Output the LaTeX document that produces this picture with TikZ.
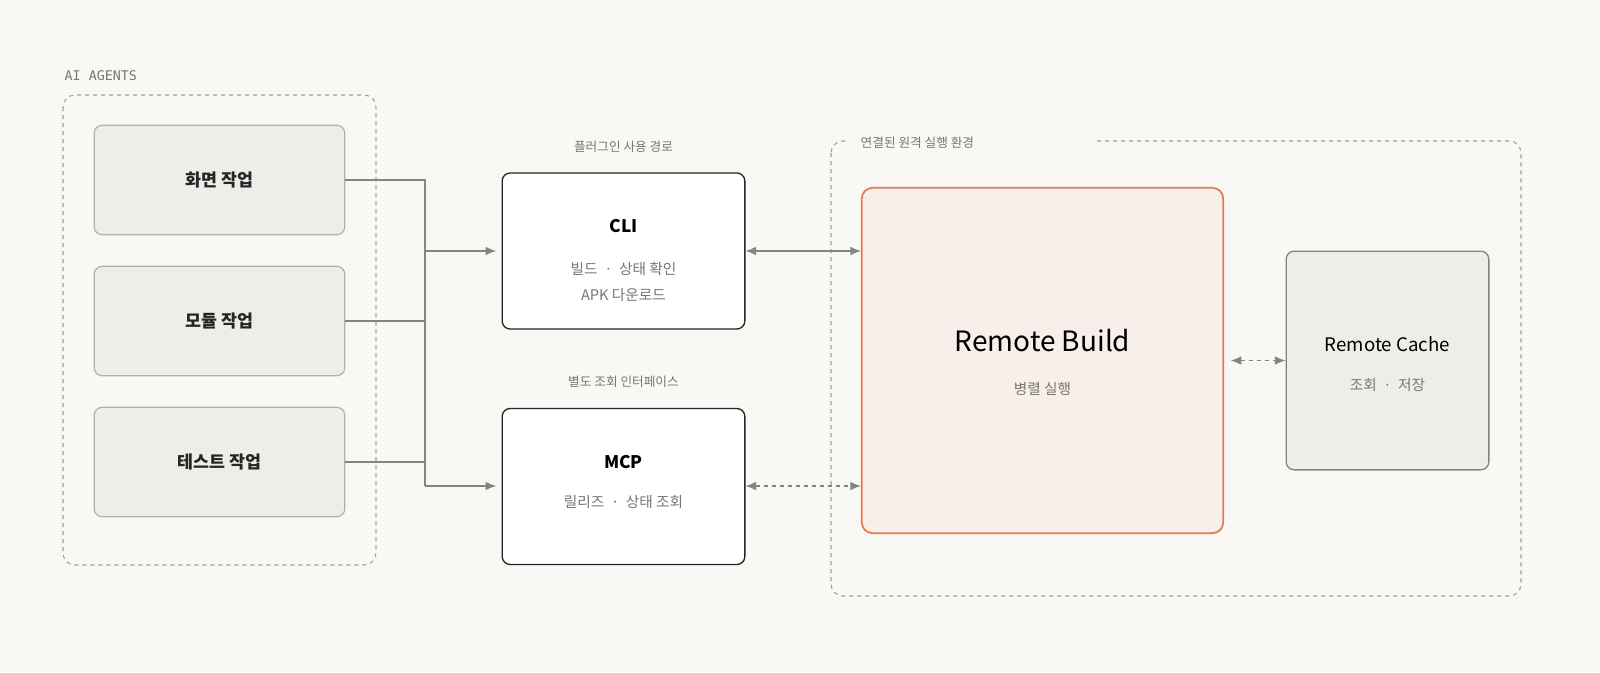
\documentclass[tikz,border=0pt]{standalone}
\usepackage{fontspec}
\setmainfont{Noto Sans CJK KR}
\newfontfamily\monofont{DejaVu Sans Mono}
\usetikzlibrary{arrows.meta}
\definecolor{bgcol}{HTML}{FAF8F4}
\definecolor{agentfill}{HTML}{EEEDE9}
\definecolor{agentline}{HTML}{B3B1AB}
\definecolor{buildfill}{HTML}{F8EFEA}
\definecolor{buildline}{HTML}{E07B54}
\definecolor{linecol}{HTML}{858580}
\definecolor{textgray}{HTML}{77766F}
\begin{document}
\begin{tikzpicture}[x=0.75pt,y=-0.75pt]
        \tikzset{agent/.style = {draw=agentline,fill=agentfill,rounded corners=6pt,line width=0.9pt,minimum width=188pt,minimum height=82pt,font=\fontsize{13}{15}\selectfont\bfseries,text=black!85}}
        \tikzset{tool/.style = {draw=black!85,fill=white,rounded corners=6pt,line width=1pt,minimum width=182pt,minimum height=117pt}}
        \tikzset{group/.style = {draw=linecol!80,dashed,rounded corners=9pt,line width=0.8pt}}
        \tikzset{caption/.style = {font=\fontsize{9.5}{11}\selectfont,text=textgray}}
        \tikzset{edge/.style = {draw=linecol,line width=0.9pt,-{Latex[length=8pt,width=6.5pt]}}}
        \tikzset{twoway/.style = {edge,{Latex[length=8pt,width=6.5pt]}-{Latex[length=8pt,width=6.5pt]}}}
        \fill[bgcol] (0,0) rectangle (1600,672);

        % agents
        \draw[group] (63,95) rectangle (376,565);
        \node[anchor=west,font=\monofont\fontsize{10}{12}\selectfont,text=textgray] (agentslabel) at (60,76) {AI AGENTS};
        \node[agent] (screen) at (219.5,180) {화면 작업};
        \node[agent] (module) at (219.5,321) {모듈 작업};
        \node[agent] (test) at (219.5,462) {테스트 작업};

        % plugin tools
        \node[tool] (cli) at (623.5,251) {};
        \node[font=\fontsize{13}{15}\selectfont\bfseries] (clititle) at (623.5,226) {CLI};
        \node[caption,align=center,font=\fontsize{11}{20}\selectfont] (clisub) at (623.5,282) {빌드 \ · \ 상태 확인\\APK 다운로드};
        \node[caption] (clilabel) at (623.5,147) {플러그인 사용 경로};
        \node[tool] (mcp) at (623.5,486.5) {};
        \node[font=\fontsize{13}{15}\selectfont\bfseries] (mcptitle) at (623.5,462) {MCP};
        \node[caption,font=\fontsize{11}{13}\selectfont] (mcpsub) at (623.5,502) {릴리즈 \ · \ 상태 조회};
        \node[caption] (mcplabel) at (623.5,382) {별도 조회 인터페이스};

        % remote environment
        \draw[group] (831,141) rectangle (1521,596);
        \fill[bgcol] (846,134) rectangle (1094,148);
        \node[caption,anchor=west] (envlabel) at (856,143) {연결된 원격 실행 환경};
        \node[draw=buildline,fill=buildfill,rounded corners=8pt,line width=1.3pt,minimum width=271pt,minimum height=259pt] (build) at (1042.5,360.5) {};
        \node[font=\fontsize{21}{24}\selectfont] (buildtitle) at (1042.5,341) {Remote Build};
        \node[caption,font=\fontsize{11}{13}\selectfont] (buildsub) at (1042.5,389) {병렬 실행};
        \node[draw=linecol,fill=agentfill,rounded corners=6pt,line width=1pt,minimum width=152pt,minimum height=164pt] (cache) at (1387.5,360.5) {};
        \node[font=\fontsize{14}{16}\selectfont] (cachetitle) at (1387.5,344) {Remote Cache};
        \node[caption,font=\fontsize{11}{13}\selectfont] (cachesub) at (1387.5,385) {조회 \ · \ 저장};

        % connectors
        \coordinate (join) at (425,251);
        \coordinate (joinlow) at (425,486);
        \draw[draw=linecol,line width=0.9pt] (screen.east) -| (joinlow);
        \draw[draw=linecol,line width=0.9pt] (module.east) -- (module.east -| join);
        \draw[draw=linecol,line width=0.9pt] (test.east) -- (test.east -| join);
        \draw[edge] (join) -- ([xshift=-4pt]cli.west);
        \draw[edge] (joinlow) -- ([xshift=-4pt]mcp.west |- joinlow);
        \draw[twoway] (cli.east) -- (cli.east -| build.west);
        \draw[twoway,dashed] (mcp.east |- joinlow) -- (build.west |- joinlow);
        \draw[twoway,dashed] ([xshift=5pt]build.east) -- (cache.west);
\end{tikzpicture}
\end{document}
